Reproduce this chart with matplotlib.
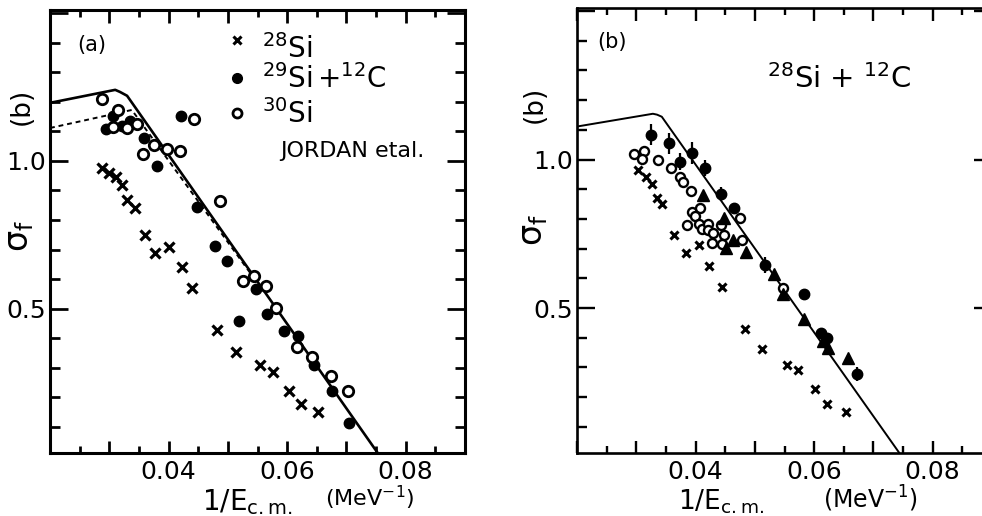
"""
Fusion cross section vs 1/E_cm for Si + 12C, panels (a) and (b).
"""

import numpy as np
import matplotlib
matplotlib.use("Agg")
import matplotlib.pyplot as plt
from matplotlib.ticker import MultipleLocator, FuncFormatter

plt.rcParams["font.family"] = ["DejaVu Sans"]
plt.rcParams["mathtext.default"] = "regular"

# ── Data: panel (a), Jordan et al. ─────────────────────────────────────────────

A_SI28_X = [0.0288, 0.0300, 0.0311, 0.0322, 0.0330, 0.0343, 0.0360, 0.0377, 0.0401,
            0.0423, 0.0440, 0.0482, 0.0514, 0.0554, 0.0576, 0.0603, 0.0623, 0.0652]
A_SI28_Y = [0.976, 0.959, 0.946, 0.919, 0.868, 0.841, 0.750, 0.689, 0.709,
            0.642, 0.571, 0.429, 0.355, 0.308, 0.287, 0.220, 0.179, 0.152]

A_SI29_X = [0.0294, 0.0306, 0.0321, 0.0335, 0.0359, 0.0381, 0.0421, 0.0448, 0.0478,
            0.0499, 0.0519, 0.0548, 0.0566, 0.0595, 0.0618, 0.0645, 0.0676, 0.0704]
A_SI29_Y = [1.108, 1.152, 1.118, 1.135, 1.078, 0.983, 1.152, 0.845, 0.713,
            0.662, 0.460, 0.568, 0.483, 0.426, 0.409, 0.311, 0.220, 0.115]

A_SI30_X = [0.0288, 0.0315, 0.0306, 0.0330, 0.0347, 0.0357, 0.0375, 0.0397, 0.0419,
            0.0443, 0.0487, 0.0526, 0.0544, 0.0564, 0.0581, 0.0617, 0.0642, 0.0674, 0.0703]
A_SI30_Y = [1.209, 1.172, 1.115, 1.111, 1.125, 1.024, 1.054, 1.041, 1.034,
            1.142, 0.865, 0.595, 0.612, 0.578, 0.503, 0.372, 0.335, 0.274, 0.223]

# calculated curves (vertices)
A_CALC_X = [0.0200, 0.0310, 0.0318, 0.0330, 0.0757]
A_CALC_Y = [1.196, 1.240, 1.233, 1.220, 0.000]
A_CALC2_X = [0.0200, 0.0338, 0.0546]
A_CALC2_Y = [1.111, 1.172, 0.598]

# ── Data: panel (b), 28Si + 12C ────────────────────────────────────────────────

B_CROSS_X = [0.0303, 0.0316, 0.0327, 0.0335, 0.0343, 0.0364, 0.0384, 0.0406, 0.0423,
             0.0445, 0.0483, 0.0512, 0.0554, 0.0573, 0.0601, 0.0622, 0.0654]
B_CROSS_Y = [0.963, 0.940, 0.916, 0.869, 0.849, 0.745, 0.685, 0.711, 0.641,
             0.570, 0.430, 0.362, 0.309, 0.292, 0.228, 0.178, 0.151]

B_FILLED_X = [0.0325, 0.0355, 0.0374, 0.0394, 0.0416, 0.0443, 0.0465, 0.0517,
              0.0583, 0.0612, 0.0622, 0.0672]
B_FILLED_Y = [1.084, 1.054, 0.993, 1.023, 0.970, 0.883, 0.836, 0.644,
              0.547, 0.416, 0.399, 0.278]
B_FILLED_ERR = [0.035, 0.034, 0.030, 0.037, 0.027, 0.023, 0.0, 0.027,
                0.0, 0.015, 0.0, 0.023]

B_OPEN_X = [0.0296, 0.0313, 0.0310, 0.0337, 0.0359, 0.0374, 0.0379, 0.0392, 0.0394,
            0.0408, 0.0399, 0.0386, 0.0406, 0.0411, 0.0421, 0.0421, 0.0429, 0.0428,
            0.0443, 0.0448, 0.0445, 0.0475, 0.0478, 0.0548]
B_OPEN_Y = [1.017, 1.027, 1.003, 1.000, 0.970, 0.940, 0.923, 0.893, 0.822,
            0.836, 0.809, 0.779, 0.782, 0.765, 0.782, 0.762, 0.752, 0.718,
            0.779, 0.745, 0.715, 0.802, 0.728, 0.567]

B_TRI_X = [0.0413, 0.0448, 0.0463, 0.0451, 0.0485, 0.0532, 0.0548, 0.0583,
           0.0615, 0.0623, 0.0657]
B_TRI_Y = [0.879, 0.802, 0.728, 0.701, 0.688, 0.614, 0.547, 0.463,
           0.389, 0.366, 0.332]

B_CALC_X = [0.0200, 0.0328, 0.0335, 0.0343, 0.0748]
B_CALC_Y = [1.111, 1.154, 1.151, 1.144, 0.000]

X_LABELS = {0.04: "0.04", 0.06: "0.06", 0.08: "0.08"}

# ── Figure ─────────────────────────────────────────────────────────────────────

W, H = 982, 516
fig = plt.figure(figsize=(W / 100, H / 100), dpi=100)


def px_box(left, top, right, bottom):
    return [left / W, 1 - bottom / H, (right - left) / W, (bottom - top) / H]


def style_axes(ax, lw):
    ax.set_xlim(0.02, 0.09)
    ax.set_ylim(0.012, 1.51)
    for s in ax.spines.values():
        s.set_linewidth(lw)
    ax.xaxis.set_major_locator(MultipleLocator(0.01))
    ax.xaxis.set_minor_locator(MultipleLocator(0.005))
    ax.xaxis.set_major_formatter(FuncFormatter(
        lambda v, p: X_LABELS.get(round(v, 3), "")))
    ax.yaxis.set_major_locator(MultipleLocator(0.5))
    ax.yaxis.set_minor_locator(MultipleLocator(0.1))
    ax.yaxis.set_major_formatter(FuncFormatter(
        lambda v, p: {0.5: "0.5", 1.0: "1.0"}.get(round(v, 2), "")))
    ax.tick_params(which="both", direction="in", top=True, right=True,
                   width=lw * 0.9, labelsize=18)
    ax.tick_params(axis="x", which="major", length=9, pad=5)
    ax.tick_params(axis="x", which="minor", length=5)
    ax.tick_params(axis="y", which="major", length=13, pad=3)
    ax.tick_params(axis="y", which="minor", length=7)


# ── Panel (a) ──

ax1 = fig.add_axes(px_box(50, 10, 465, 453))
style_axes(ax1, 2.2)

ax1.plot(A_CALC_X, A_CALC_Y, color="k", lw=1.9, solid_joinstyle="round")
ax1.plot(A_CALC2_X, A_CALC2_Y, color="k", lw=1.4, ls=(0, (2.5, 2)))

ax1.plot(A_SI28_X, A_SI28_Y, ls="none", marker="x", ms=6.5, mew=2.3, color="k")
ax1.plot(A_SI29_X, A_SI29_Y, ls="none", marker="o", ms=7.5, color="k")
ax1.plot(A_SI30_X, A_SI30_Y, ls="none", marker="o", ms=7.5, mew=2.0,
         mfc="white", mec="k")

# legend
ax1.plot([0.4506], [0.932], transform=ax1.transAxes, marker="x", ms=5.5,
         mew=2.2, color="k", clip_on=False)
ax1.plot([0.4506], [0.8465], transform=ax1.transAxes, marker="o", ms=7,
         color="k")
ax1.plot([0.4506], [0.7675], transform=ax1.transAxes, marker="o", ms=6.5,
         mew=2.0, mfc="white", mec="k")
ax1.text(0.511, 0.8916, r"$^{28}$Si", transform=ax1.transAxes, fontsize=20,
         va="baseline")
ax1.text(0.511, 0.8239, r"$^{29}$Si$\,$+$^{12}$C",
         transform=ax1.transAxes, fontsize=20, va="baseline")
ax1.text(0.511, 0.7449, r"$^{30}$Si", transform=ax1.transAxes, fontsize=20,
         va="baseline")
ax1.text(0.554, 0.6682, "JORDAN etal.", transform=ax1.transAxes, fontsize=16,
         va="baseline")
ax1.text(0.065, 0.921, "(a)", transform=ax1.transAxes, fontsize=15,
         va="center")

# ── Panel (b) ──

ax2 = fig.add_axes(px_box(577, 8, 992, 453))
style_axes(ax2, 1.9)

ax2.plot(B_CALC_X, B_CALC_Y, color="k", lw=1.4, solid_joinstyle="round")
ax2.plot(B_CROSS_X, B_CROSS_Y, ls="none", marker="x", ms=6, mew=2.2, color="k")
ax2.plot(B_OPEN_X, B_OPEN_Y, ls="none", marker="o", ms=6.5, mew=1.7,
         mfc="white", mec="k")
ax2.errorbar(B_FILLED_X, B_FILLED_Y, yerr=B_FILLED_ERR, ls="none", marker="o",
             ms=7.5, color="k", elinewidth=1.6, capsize=0)
ax2.plot(B_TRI_X, B_TRI_Y, ls="none", marker="^", ms=8.5, color="k")

ax2.text(0.048, 0.9236, "(b)", transform=ax2.transAxes, fontsize=15,
         va="center")
ax2.text(0.458, 0.820, r"$^{28}$Si + $^{12}$C",
         transform=ax2.transAxes, fontsize=21, va="baseline")

# ── Axis labels (placed like the original typeset labels) ──

def ftext(px, py, s, **kw):
    fig.text(px / W, 1 - py / H, s, **kw)


ftext(202, 510, r"1/E$_{\rm c.m.}$", fontsize=20, va="baseline")
ftext(325, 506, r"(MeV$^{-1}$)", fontsize=16, va="baseline")
ftext(678, 510, r"1/E$_{\rm c.m.}$", fontsize=19, va="baseline")
ftext(823, 508, r"(MeV$^{-1}$)", fontsize=17, va="baseline")

ftext(20, 236, r"$\sigma_f$", fontsize=24, rotation=90, ha="center", va="center")
ftext(22, 106, "(b)", fontsize=19, rotation=90, ha="center", va="center")
ftext(533, 230, r"$\sigma_f$", fontsize=24, rotation=90, ha="center", va="center")
ftext(535, 104, "(b)", fontsize=19, rotation=90, ha="center", va="center")

fig.savefig("out.png", dpi=100)
